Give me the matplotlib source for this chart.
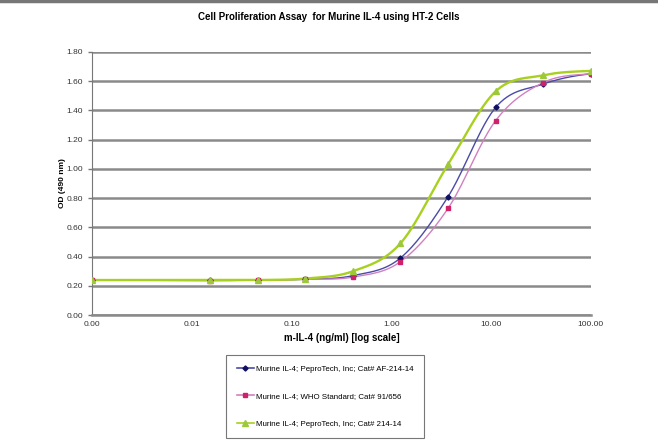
import numpy as np
from matplotlib import pyplot as plt
from matplotlib.lines import Line2D

# dose (ng/ml), 3-fold dilutions plus lowest dose
dose = [0.001, 0.0152, 0.0457, 0.137, 0.412, 1.23, 3.70, 11.1, 33.3, 100.0]

od_af = [0.24, 0.24, 0.24, 0.245, 0.27, 0.39, 0.81, 1.42, 1.58, 1.65]
od_who = [0.24, 0.235, 0.24, 0.245, 0.26, 0.365, 0.73, 1.33, 1.59, 1.65]
od_214 = [0.24, 0.24, 0.24, 0.25, 0.30, 0.49, 1.03, 1.53, 1.64, 1.67]

labels = ["Murine IL-4; PeproTech, Inc; Cat# AF-214-14",
          "Murine IL-4; WHO Standard; Cat# 91/656",
          "Murine IL-4; PeproTech, Inc; Cat# 214-14"]

xticks = [0.001, 0.01, 0.1, 1, 10, 100]
xticklabels = ["0.00", "0.01", "0.10", "1.00", "10.00", "100.00"]
yticks = [0.0, 0.2, 0.4, 0.6, 0.8, 1.0, 1.2, 1.4, 1.6, 1.8]

plt.rcParams['font.family'] = ['Liberation Sans', 'DejaVu Sans']


# smoothed line like a spreadsheet chart (catmull-rom in log-x space)
def smooth(x, y, n=30):
    lx = np.log10(x)
    y = np.asarray(y, dtype=float)
    px = np.concatenate([[2 * lx[0] - lx[1]], lx, [2 * lx[-1] - lx[-2]]])
    py = np.concatenate([[y[0]], y, [y[-1]]])
    xs, ys = [], []
    for i in range(1, len(px) - 2):
        t = np.linspace(0, 1, n)
        p0, p1, p2, p3 = px[i - 1], px[i], px[i + 1], px[i + 2]
        q0, q1, q2, q3 = py[i - 1], py[i], py[i + 1], py[i + 2]
        m1x, m2x = (p2 - p0) / 2, (p3 - p1) / 2
        m1y, m2y = (q2 - q0) / 2, (q3 - q1) / 2
        h00 = 2 * t**3 - 3 * t**2 + 1
        h10 = t**3 - 2 * t**2 + t
        h01 = -2 * t**3 + 3 * t**2
        h11 = t**3 - t**2
        xs.append(h00 * p1 + h10 * m1x + h01 * p2 + h11 * m2x)
        ys.append(h00 * q1 + h10 * m1y + h01 * q2 + h11 * m2y)
    return 10 ** np.concatenate(xs), np.concatenate(ys)


fig = plt.figure(figsize=(6.58, 4.47), dpi=100)
ax = fig.add_axes([0.14, 0.295, 0.758, 0.589])

series = [
    (od_af, '#4a4aa8', '#101060', 'D', 2.6, 1.0),
    (od_who, '#d080c0', '#d0206a', 's', 3.2, 1.0),
    (od_214, '#a8d020', '#9cc83a', '^', 4.0, 1.7),
]
handles = []
for (od, lc, mc, mk, ms, lw), lab in zip(series, labels):
    sx, sy = smooth(dose, od)
    ax.plot(sx, sy, color=lc, lw=lw, zorder=3)
    ax.plot(dose, od, ls='none', marker=mk, ms=ms, color=mc, zorder=4)
    handles.append(Line2D([], [], color=lc, lw=1.2, marker=mk, ms=ms,
                          markerfacecolor=mc, markeredgecolor=mc, label=lab))

ax.set_xscale('log')
ax.set_xlim(0.001, 100)
ax.set_ylim(0, 1.8)
ax.set_xticks(xticks)
ax.set_xticklabels(xticklabels)
ax.xaxis.set_minor_locator(plt.NullLocator())
ax.set_yticks(yticks)
ax.set_yticklabels(["%.2f" % v for v in yticks])
ax.tick_params(axis='x', length=0, labelsize=6, pad=4, labelcolor='#333333')
ax.tick_params(axis='y', length=3, width=1, color='#777777', labelsize=6,
               labelcolor='#333333')
ax.grid(axis='y', color='#8a8a8a', lw=1.8)
ax.set_axisbelow(True)
for s in ['top', 'right']:
    ax.spines[s].set_visible(False)
ax.spines['left'].set_color('#777777')
ax.spines['bottom'].set_color('#8a8a8a')
ax.spines['bottom'].set_linewidth(1.8)

ax.set_xlabel("m-IL-4 (ng/ml) [log scale]", fontsize=7, fontweight='bold',
              labelpad=4)
ax.set_ylabel("OD (490 nm)", fontsize=6, fontweight='bold', labelpad=0)
fig.text(0.5, 0.962, "Cell Proliferation Assay  for Murine IL-4 using HT-2 Cells",
         ha='center', va='center', fontsize=7, fontweight='bold')

leg = fig.legend(handles=handles, loc='center', bbox_to_anchor=(0.494, 0.113),
                 fontsize=5.7, frameon=True, fancybox=False, handlelength=2.2,
                 handletextpad=0.2, labelspacing=2.5, borderpad=1.3,
                 borderaxespad=0)
leg.get_frame().set_edgecolor('#555555')
leg.get_frame().set_linewidth(0.8)

fig.add_artist(Line2D([0, 1], [0.998, 0.998], color='#777777', lw=2.5))

plt.savefig("out.png")
